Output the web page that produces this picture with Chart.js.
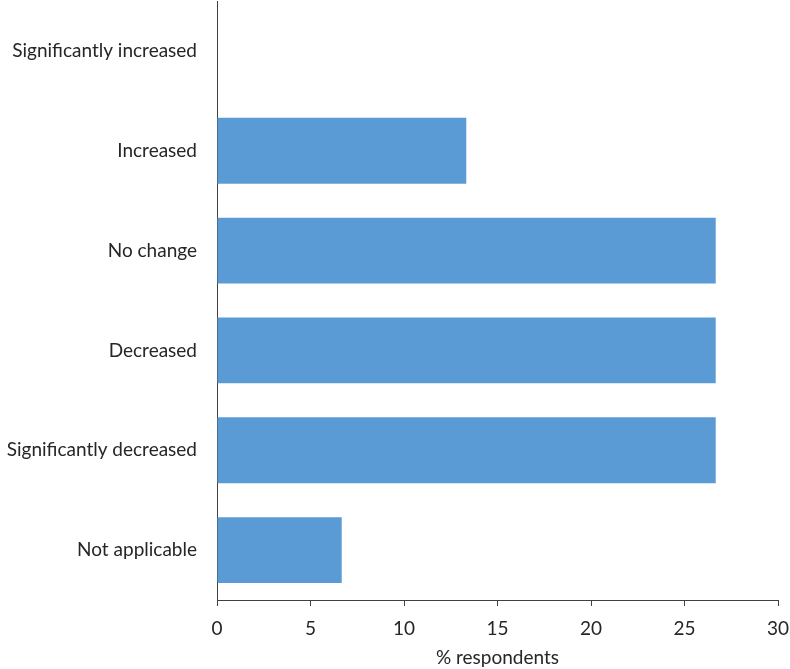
<!DOCTYPE html>
<html>
<head>
<meta charset="utf-8">
<script src="https://cdn.jsdelivr.net/npm/chart.js@4"></script>
<style>
  html, body { margin: 0; padding: 0; background: #fff; }
  #wrap { width: 790px; height: 669px; }
</style>
</head>
<body>
<div id="wrap"><canvas id="chart"></canvas></div>
<script>
const categories = ['Significantly increased', 'Increased', 'No change', 'Decreased', 'Significantly decreased', 'Not applicable'];
const values = [0, 13.33, 26.67, 26.67, 26.67, 6.67];
const xTicks = [0, 5, 10, 15, 20, 25, 30];
const xTitle = '% respondents';

const axisColor = '#404040';
const textColor = '#262626';
const fontFamily = 'Lato, "Open Sans", sans-serif';
const fontSize = 19;

const ctx = document.getElementById('chart').getContext('2d');
new Chart(ctx, {
  type: 'bar',
  data: {
    labels: categories,
    datasets: [{
      data: values,
      backgroundColor: '#5B9BD5',
      borderWidth: 0,
      categoryPercentage: 0.66,
      barPercentage: 1
    }]
  },
  options: {
    indexAxis: 'y',
    responsive: true,
    maintainAspectRatio: false,
    animation: false,
    layout: { padding: { top: 1, right: 12, bottom: 0, left: 0 } },
    plugins: { legend: { display: false }, tooltip: { enabled: false } },
    scales: {
      x: {
        min: 0,
        max: 30,
        afterBuildTicks: axis => { axis.ticks = xTicks.map(v => ({ value: v })); },
        grid: { drawOnChartArea: false, drawTicks: true, tickLength: 6, color: axisColor, lineWidth: 1 },
        border: { color: axisColor, width: 1 },
        ticks: { color: textColor, font: { family: fontFamily, size: fontSize }, padding: 11, maxRotation: 0 },
        title: { display: true, text: xTitle, color: textColor, font: { family: fontFamily, size: fontSize }, padding: { top: 4, bottom: 0 } },
        afterFit: axis => {
          axis.height = 69;
          axis.paddingLeft = 0;
          axis.paddingRight = 0;
        }
      },
      y: {
        grid: { drawOnChartArea: false, drawTicks: false },
        border: { color: axisColor, width: 1 },
        ticks: { color: textColor, font: { family: fontFamily, size: fontSize }, padding: 20 },
        afterFit: axis => {
          axis.width = 217;
          axis.paddingTop = 0;
          axis.paddingBottom = 0;
        }
      }
    }
  }
});
</script>
</body>
</html>
